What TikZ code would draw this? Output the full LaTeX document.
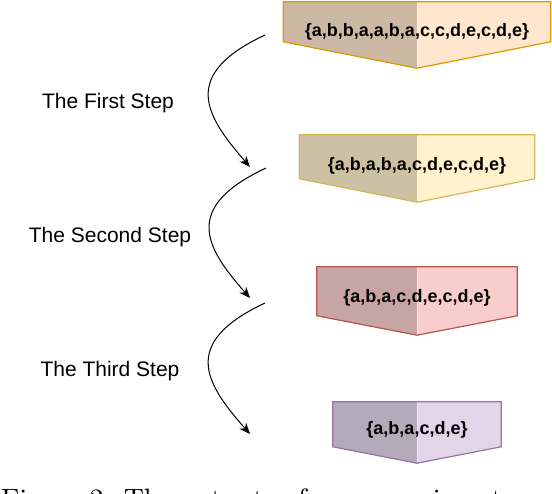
\documentclass[tikz,border=0pt]{standalone}
\usepackage{fontspec}
\usepackage{xcolor}
\usepackage{tikz}
\usetikzlibrary{arrows.meta,positioning,backgrounds}
\newfontfamily\arialfont{Liberation Sans}
\definecolor{orangefill}{HTML}{FFE6CC}
\definecolor{orangeline}{HTML}{D79B00}
\definecolor{yellowfill}{HTML}{FFF2CC}
\definecolor{yellowline}{HTML}{D6B656}
\definecolor{redfill}{HTML}{F8CECC}
\definecolor{redline}{HTML}{B85450}
\definecolor{purplefill}{HTML}{E1D5E7}
\definecolor{purpleline}{HTML}{9673A6}

\begin{document}
\begin{tikzpicture}[
    x=1pt, y=-1pt,
    seqbox/.style={rectangle, inner sep=0pt, text height=13pt, text depth=9pt, font=\arialfont\bfseries\fontsize{18}{22}\selectfont},
    halfshade/.style={path picture={
        \fill[#1!80!black] (path picture bounding box.south west) rectangle (path picture bounding box.north);
        \draw[white, opacity=0.5, line width=1pt] (path picture bounding box.north) -- (path picture bounding box.south);}},
    stepshape/.style={line width=1.2pt, line join=miter},
    orangestep/.style={stepshape, fill=orangefill, draw=orangeline, halfshade=orangefill},
    yellowstep/.style={stepshape, fill=yellowfill, draw=yellowline, halfshade=yellowfill},
    redstep/.style={stepshape, fill=redfill, draw=redline, halfshade=redfill},
    purplestep/.style={stepshape, fill=purplefill, draw=purpleline, halfshade=purplefill},
    steplabel/.style={anchor=base, font=\arialfont\fontsize{21}{25}\selectfont},
    arrow/.style={-{Stealth[length=11pt, width=9pt]}, line width=1pt}
]
\useasboundingbox (0,0) rectangle (552,494);

% Sequences
\node[seqbox, minimum width=267, minimum height=66] (seq1) at (417,35) {\{a,b,b,a,a,b,a,c,c,d,e,c,d,e\}};
\node[seqbox, minimum width=235, minimum height=67] (seq2) at (417,168.5) {\{a,b,a,b,a,c,d,e,c,d,e\}};
\node[seqbox, minimum width=200, minimum height=68] (seq3) at (417,301) {\{a,b,a,c,d,e,c,d,e\}};
\node[seqbox, minimum width=168, minimum height=61] (seq4) at (417,432.5) {\{a,b,a,c,d,e\}};

% Pentagon outlines behind the sequences
\begin{scope}[on background layer]
\foreach \seq/\look/\side in {seq1/orangestep/40, seq2/yellowstep/44, seq3/redstep/49, seq4/purplestep/45}
    \path[\look] (\seq.north west) -- (\seq.north east) -- ([yshift=-\side pt]\seq.north east)
        -- (\seq.south) -- ([yshift=-\side pt]\seq.north west) -- cycle;
\end{scope}

% Step labels
\node[steplabel] (first) at (108,109) {The First Step};
\node[steplabel] (second) at (110,243) {The Second Step};
\node[steplabel] (third) at (110,377) {The Third Step};

% Curved arrows
\coordinate (from1) at (265,35);
\coordinate (to1) at (250,167);
\coordinate (from2) at (266,168);
\coordinate (to2) at (250,298);
\coordinate (from3) at (265,303);
\coordinate (to3) at (250,434);
\draw[arrow] (from1) .. controls (180,75) and (205,115) .. (to1);
\draw[arrow] (from2) .. controls (181,208) and (206,248) .. (to2);
\draw[arrow] (from3) .. controls (180,343) and (205,383) .. (to3);

% Caption (cut off at the bottom)
\node[anchor=base west, inner sep=0pt] (caption) at (1,508) {\scalebox{2.8}{\fontsize{10}{12}\selectfont Figure 2: The outputs of our experiment}};

\end{tikzpicture}
\end{document}
